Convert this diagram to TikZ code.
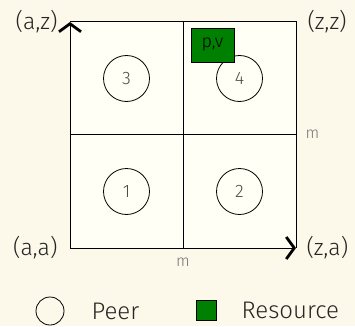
\documentclass[tikz,border=0pt]{standalone}
\usepackage{fontspec}
\setmainfont{Fira Sans Light}
\usetikzlibrary{arrows.meta,positioning}
\definecolor{slidebg}{RGB}{252,249,234}
\definecolor{boxbg}{RGB}{255,255,246}
\definecolor{resgreen}{RGB}{0,128,0}
\tikzset{
  peer/.style={circle, draw, line width=0.8pt, minimum size=46pt, inner sep=0pt,
    font=\fontsize{18}{20}\selectfont, text=black!70},
  resource/.style={rectangle, draw, line width=0.8pt, fill=resgreen,
    minimum width=43pt, minimum height=34pt, inner sep=0pt,
    font=\fontsize{18}{20}\selectfont},
  axis/.style={line width=1pt, -{Straight Barb[length=8pt,width=22pt,line width=2.8pt]}},
  mlabel/.style={font=\fontsize{16}{18}\selectfont, text=black!55},
  corner/.style={font=\fontsize{23}{26}\selectfont, text=black!85},
  legend/.style={font=\fontsize{24}{26}\selectfont, text=black!85, inner sep=1pt}
}
\begin{document}
\begin{tikzpicture}[x=1pt, y=-1pt]
  \useasboundingbox[fill=slidebg] (0,0) rectangle (355,326);
  \coordinate (O) at (70,248);
  \coordinate (X) at (296,248);
  \coordinate (Y) at (70,22);
  \coordinate (Z) at (296,22);
  \coordinate (MB) at (183,248);
  \coordinate (MT) at (183,22);
  \coordinate (ML) at (70,134);
  \coordinate (MR) at (296,134);
  % key space
  \fill[boxbg] (Y) rectangle (X);
  \draw[line width=1pt] (Y)--(Z)--(X) (MT)--(MB) (ML)--(MR);
  \draw[axis] (O)--(Y);
  \draw[axis] (O)--(X);
  % peers and resource
  \node[peer] (p3) at (126.5,78.5) {3};
  \node[peer] (p4) at (239.5,78.5) {4};
  \node[peer] (p1) at (126.5,191.5) {1};
  \node[peer] (p2) at (239.5,191.5) {2};
  \node[resource] (res) at (212.5,45) {p,v};
  % labels
  \node[corner, left=9pt of Y] (az) {(a,z)};
  \node[corner, right=8pt of Z] (zz) {(z,z)};
  \node[corner, left=9pt of O] (aa) {(a,a)};
  \node[corner, right=7pt of X] (za) {(z,a)};
  \node[mlabel, below=6pt of MB] (mx) {m};
  \node[mlabel, right=6pt of MR] (my) {m};
  % legend
  \node[peer, minimum size=28pt] (legpeer) at (50,311) {};
  \node[legend, right=26pt of legpeer] (legpeertxt) {Peer};
  \node[resource, minimum width=20pt, minimum height=20pt] (legres) at (206,310.5) {};
  \node[legend, right=24pt of legres] (legrestxt) {Resource};
\end{tikzpicture}
\end{document}
